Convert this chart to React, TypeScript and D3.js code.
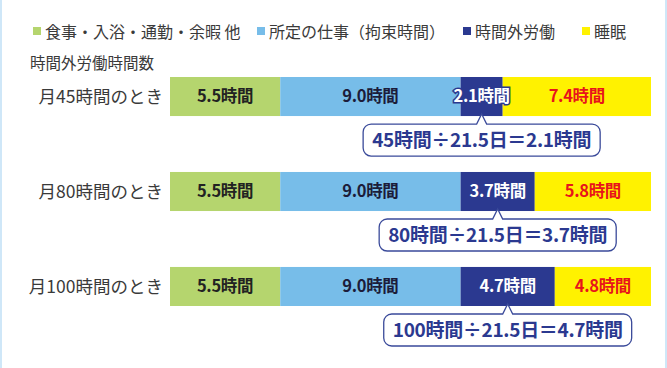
import { useRef, useEffect } from "react";
import * as d3 from "d3";

// data
const categories = ["月45時間のとき", "月80時間のとき", "月100時間のとき"];
const monthlyOvertime = [45, 80, 100];
const workDays = 21.5;
const lifeHours = [5.5, 5.5, 5.5];
const workHours = [9.0, 9.0, 9.0];
const overtimeHours = [2.1, 3.7, 4.7];
const sleepHours = [7.4, 5.8, 4.8];
const seriesNames = ["食事・入浴・通勤・余暇 他", "所定の仕事（拘束時間）", "時間外労働", "睡眠"];

const colors = ["#b5d56e", "#77bde9", "#2b3990", "#fff200"];
const labelColors = ["#222222", "#1c1c3a", "#ffffff", "#e8141b"];
const FONT = "'Noto Sans CJK JP', 'Noto Sans', sans-serif";

const App = () => {
  const container = useRef<SVGSVGElement>(null);

  useEffect(() => {
    document.body.style.margin = "0";
    draw();
  }, []);

  const draw = () => {
    const svg = d3.select(container.current);
    svg.selectAll("*").remove();

    const W = 667;
    const H = 368;

    // frame
    svg.append("rect").attr("width", W).attr("height", H).attr("fill", "#ffffff");
    svg.append("line").attr("x1", 1).attr("x2", 1).attr("y1", 0).attr("y2", H)
      .attr("stroke", "#cfe7f8").attr("stroke-width", 2);
    svg.append("line").attr("x1", W - 1).attr("x2", W - 1).attr("y1", 0).attr("y2", H)
      .attr("stroke", "#cfe7f8").attr("stroke-width", 2);

    const xScale = d3.scaleLinear().domain([0, 24]).range([170, 651]);
    const yScale = d3.scaleBand().domain(categories).range([77, 306]).paddingInner(0.589);

    const rows = categories.map((c, i) => {
      const vals = [lifeHours[i], workHours[i], overtimeHours[i], sleepHours[i]];
      let acc = 0;
      const segs = vals.map((v, k) => {
        const s = { k, x0: acc, x1: acc + v, v };
        acc += v;
        return s;
      });
      return { c, i, segs };
    });

    // legend
    const legendX = [33, 257, 463, 582];
    const legend = svg.append("g");
    seriesNames.forEach((n, k) => {
      legend.append("rect").attr("x", legendX[k]).attr("y", 27).attr("width", 8).attr("height", 8)
        .attr("fill", colors[k]);
      legend.append("text").attr("x", legendX[k] + 12).attr("y", 37.5)
        .attr("font-family", FONT).attr("font-size", 16).attr("fill", "#3a3a3a").text(n);
    });

    svg.append("text").attr("x", 30).attr("y", 69)
      .attr("font-family", FONT).attr("font-size", 15.5).attr("fill", "#3a3a3a").text("時間外労働時間数");

    const bw = yScale.bandwidth();

    rows.forEach((r) => {
      const y = yScale(r.c)!;
      const g = svg.append("g");

      g.append("text").attr("x", 163).attr("y", y + bw / 2).attr("dy", "0.35em")
        .attr("text-anchor", "end").attr("font-family", FONT).attr("font-size", 17.5)
        .attr("fill", "#3a3a3a").text(r.c);

      g.selectAll(".seg").data(r.segs).join("rect").attr("class", "seg")
        .attr("x", (d) => xScale(d.x0)).attr("width", (d) => xScale(d.x1) - xScale(d.x0))
        .attr("y", y).attr("height", bw).attr("fill", (d) => colors[d.k]);

      g.selectAll(".lab").data(r.segs).join("text").attr("class", "lab")
        .attr("x", (d) => (xScale(d.x0) + xScale(d.x1)) / 2).attr("y", y + bw / 2).attr("dy", "0.35em")
        .attr("text-anchor", "middle").attr("font-family", FONT).attr("font-weight", "bold")
        .attr("font-size", 16.5).attr("fill", (d) => labelColors[d.k])
        .attr("stroke", (d) => (d.k === 2 ? colors[2] : "none")).attr("stroke-width", 3)
        .attr("paint-order", "stroke").attr("letter-spacing", -0.3)
        .text((d) => `${d.v.toFixed(1)}時間`);

      // callout
      const ot = r.segs[2];
      const cx = (xScale(ot.x0) + xScale(ot.x1)) / 2;
      const top = y + bw + 8;
      const bh = 32;
      const tipY = y + bw - 2;
      const txt = g.append("text").attr("x", cx).attr("y", top + bh / 2).attr("dy", "0.36em")
        .attr("text-anchor", "middle").attr("font-family", FONT).attr("font-weight", "bold")
        .attr("font-size", 19).attr("fill", "#2b3990").attr("letter-spacing", -0.3)
        .text(`${monthlyOvertime[r.i]}時間÷${workDays}日＝${ot.v.toFixed(1)}時間`);
      const tw = (txt.node() as SVGTextElement).getComputedTextLength();
      const half = tw / 2 + 9;
      const L = cx - half, R = cx + half, B = top + bh, rr = 8;
      const p = d3.path();
      p.moveTo(L + rr, top);
      p.lineTo(cx - 5, top);
      p.lineTo(cx, tipY);
      p.lineTo(cx + 5, top);
      p.lineTo(R - rr, top);
      p.arcTo(R, top, R, top + rr, rr);
      p.lineTo(R, B - rr);
      p.arcTo(R, B, R - rr, B, rr);
      p.lineTo(L + rr, B);
      p.arcTo(L, B, L, B - rr, rr);
      p.lineTo(L, top + rr);
      p.arcTo(L, top, L + rr, top, rr);
      p.closePath();
      g.insert("path", "text:last-of-type").attr("d", p.toString()).attr("fill", "#ffffff")
        .attr("stroke", "#3a4a9a").attr("stroke-width", 1.3);
    });
  };

  return <svg ref={container} width={667} height={368} style={{ display: "block" }} />;
};

export default App;
